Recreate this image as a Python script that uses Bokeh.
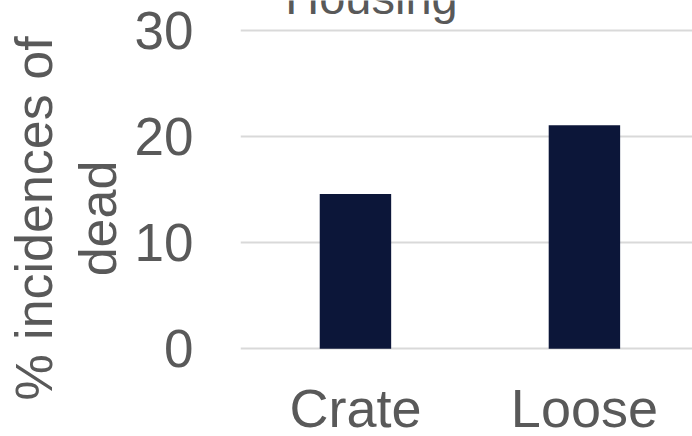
from bokeh.plotting import figure
from bokeh.models import ColumnDataSource, FixedTicker, Label, LabelSet, Range1d
from bokeh.core.properties import value
from bokeh.embed import file_html
from bokeh.resources import INLINE

# ---- data ----
categories = ["Crate", "Loose"]
incidence_pct = [14.6, 21.1]
y_ticks = [0, 10, 20, 30]
title_text = "Housing"
ylabel_text = "% incidences of\ndead"

FONT = "Liberation Sans"
TXT = "#595959"
W, H = 692, 436
FRAME_LEFT = 240
PX_PER_UNIT = 10.6
ZERO_Y = 348.3          # page y of value 0

xs = list(range(len(categories)))
src = ColumnDataSource(data=dict(x=xs, top=incidence_pct, cat=categories,
                                 ly=[H - 426] * len(categories)))

p = figure(width=W, height=H, output_backend="svg", toolbar_location=None,
           x_range=Range1d(-0.502, 1.472),
           y_range=Range1d(-(H - ZERO_Y) / PX_PER_UNIT, ZERO_Y / PX_PER_UNIT),
           min_border_left=FRAME_LEFT, min_border_right=0, min_border_top=0,
           min_border_bottom=0)
p.outline_line_color = None
p.background_fill_color = "white"
p.border_fill_color = "white"

p.vbar(x="x", top="top", bottom=0, width=0.312, source=src,
       fill_color="#0c1639", line_color=None)

# y axis
p.yaxis.ticker = FixedTicker(ticks=y_ticks)
p.yaxis.axis_line_color = None
p.yaxis.major_tick_line_color = None
p.yaxis.minor_tick_line_color = None
p.yaxis.major_label_text_font = FONT
p.yaxis.major_label_text_font_size = "53px"
p.yaxis.major_label_text_color = TXT
p.yaxis.major_label_standoff = 41
p.yaxis.axis_label = ylabel_text
p.yaxis.axis_label_text_font = FONT
p.yaxis.axis_label_text_font_size = "52px"
p.yaxis.axis_label_text_font_style = "normal"
p.yaxis.axis_label_text_color = TXT
p.yaxis.axis_label_standoff = 5
p.yaxis.axis_label_text_line_height = 1.1

# x axis: category labels drawn as a label set
p.xaxis.visible = False
p.add_layout(LabelSet(x="x", y="ly", text="cat", source=src,
                      x_units="data", y_units="screen",
                      text_font=value(FONT), text_font_size=value("54px"),
                      text_color=TXT,
                      text_align="center", text_baseline="alphabetic"))

p.xgrid.grid_line_color = None
p.ygrid.ticker = FixedTicker(ticks=y_ticks)
p.ygrid.grid_line_color = "#d9d9d9"
p.ygrid.grid_line_width = 2

# title (partly cut off at top, as in reference)
p.add_layout(Label(x=371 - FRAME_LEFT, y=H - (18 - 0.44 * 47),
                   x_units="screen", y_units="screen",
                   text=title_text, text_font=FONT, text_font_size="47px",
                   text_color=TXT, text_align="center",
                   text_baseline="alphabetic"))

open("out.html", "w").write(file_html(p, INLINE))
